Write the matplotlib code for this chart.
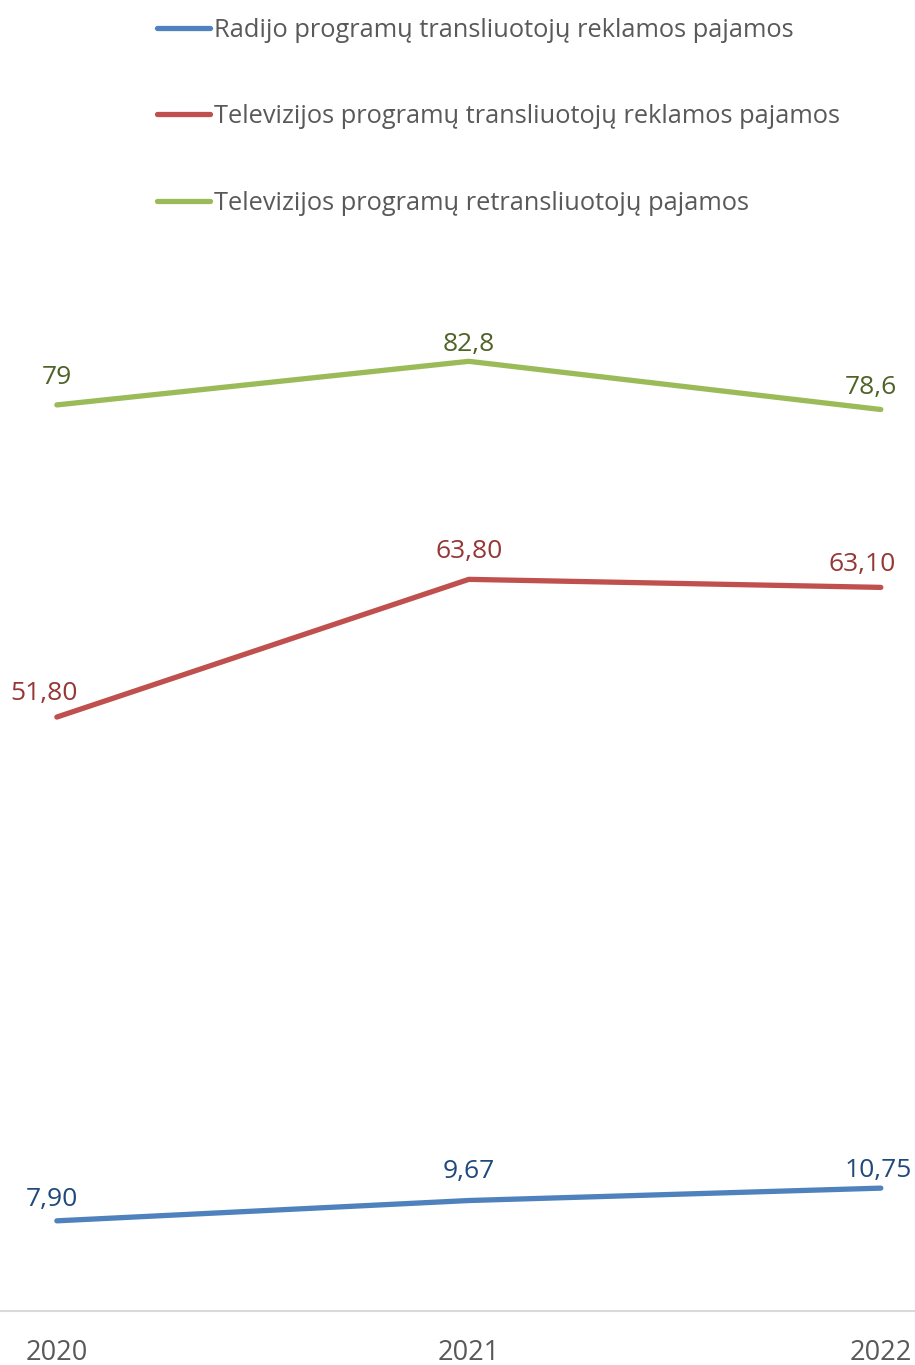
import matplotlib.pyplot as plt
from matplotlib.lines import Line2D

plt.rcParams['font.family'] = ['Open Sans', 'DejaVu Sans']

years = ['2020', '2021', '2022']
radio = [7.90, 9.67, 10.75]
tv_ads = [51.80, 63.80, 63.10]
tv_retrans = [79, 82.8, 78.6]

radio_labels = ['7,90', '9,67', '10,75']
tv_ads_labels = ['51,80', '63,80', '63,10']
tv_retrans_labels = ['79', '82,8', '78,6']

series_names = [
    'Radijo programų transliuotojų reklamos pajamos',
    'Televizijos programų transliuotojų reklamos pajamos',
    'Televizijos programų retransliuotojų pajamos',
]

line_colors = ['#4F81BD', '#C0504D', '#9BBB59']
text_colors = ['#1F497D', '#953735', '#4F6228']
# label offsets in pixels (dx, dy) so they sit like in the original
label_dx = [[-5, 0, -3], [-13, 0, -19], [0, 0, -10]]
label_dy = [[21, 29, 18], [24, 28, 23], [27, 17, 22]]

fig = plt.figure(figsize=(9.15, 13.65), dpi=100)
ax = fig.add_axes([0, 0.0392, 1, 0.8407])

x = list(range(len(years)))
all_series = [radio, tv_ads, tv_retrans]
all_labels = [radio_labels, tv_ads_labels, tv_retrans_labels]

for i, (vals, labs) in enumerate(zip(all_series, all_labels)):
    ax.plot(x, vals, color=line_colors[i], lw=3.8, solid_capstyle='round',
            clip_on=False)
    for j, (v, t) in enumerate(zip(vals, labs)):
        ax.annotate(t, (x[j], v), xytext=(label_dx[i][j] * 0.72, label_dy[i][j] * 0.72),
                    textcoords='offset points', ha='center', va='center',
                    fontsize=19, color=text_colors[i])

ax.set_xlim(-0.138, 2.083)
ax.set_ylim(0, 100)
ax.set_xticks(x)
ax.set_xticklabels(years, fontsize=19.5, color='#595959')
ax.tick_params(axis='x', length=0, pad=20)
ax.set_yticks([])
for side in ['top', 'left', 'right']:
    ax.spines[side].set_visible(False)
ax.spines['bottom'].set_color('#D9D9D9')
ax.spines['bottom'].set_linewidth(1.5)

handles = [Line2D([], [], color=c, lw=3.8, solid_capstyle='round') for c in line_colors]
fig.legend(handles, series_names, loc='upper left', bbox_to_anchor=(0.153, 0.999),
           frameon=False, fontsize=18.3, labelcolor='#595959', handlelength=2.1,
           handletextpad=0.15, labelspacing=2.42, borderaxespad=0.25)

fig.savefig('out.png', dpi=100)
